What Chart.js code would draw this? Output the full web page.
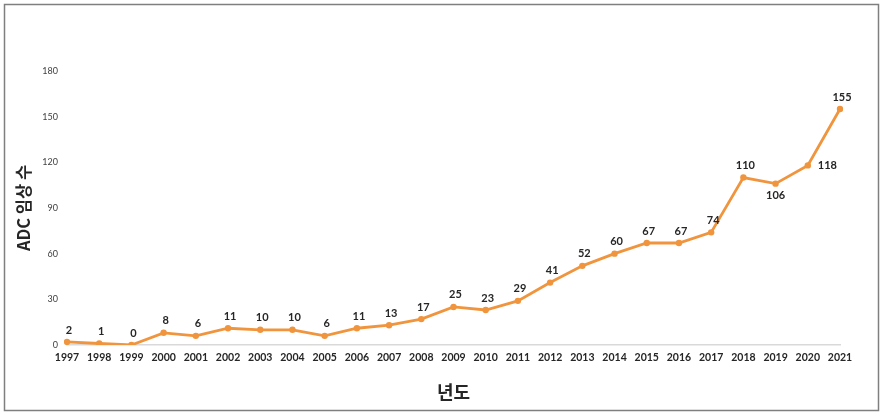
<!DOCTYPE html>
<html>
<head>
<meta charset="utf-8">
<script src="https://cdn.jsdelivr.net/npm/chart.js@4/dist/chart.umd.min.js"></script>
<style>
  body { margin: 0; background: #fff; }
  canvas { display: block; }
</style>
</head>
<body>
<canvas id="adcChart" width="884" height="414"></canvas>
<script>
const anios = ['1997', '1998', '1999', '2000', '2001', '2002', '2003', '2004', '2005', '2006', '2007', '2008',
  '2009', '2010', '2011', '2012', '2013', '2014', '2015', '2016', '2017', '2018', '2019', '2020', '2021'];
const ensayos = [2, 1, 0, 8, 6, 11, 10, 10, 6, 11, 13, 17, 25, 23, 29, 41, 52, 60, 67, 67, 74, 110, 106, 118, 155];
const yTicks = [0, 30, 60, 90, 120, 150, 180];

// donde va cada etiqueta respecto al punto
const posEtiqueta = anios.map(a => a === '2019' ? 'bottom' : (a === '2020' ? 'right' : 'top'));

const marco = {
  id: 'marco',
  beforeDraw(chart) {
    const ctx = chart.ctx;
    ctx.save();
    ctx.fillStyle = '#fff';
    ctx.fillRect(0, 0, chart.width, chart.height);
    ctx.strokeStyle = '#7f7f7f';
    ctx.lineWidth = 1.5;
    ctx.strokeRect(4.5, 4.5, 874, 406);
    ctx.restore();
  }
};

const etiquetas = {
  id: 'etiquetas',
  afterDatasetsDraw(chart) {
    const ctx = chart.ctx;
    const meta = chart.getDatasetMeta(0);
    ctx.save();
    ctx.font = 'bold 11px Lato';
    ctx.fillStyle = '#262626';
    ctx.textBaseline = 'middle';
    meta.data.forEach((pt, i) => {
      const pos = posEtiqueta[i];
      const txt = String(ensayos[i]);
      if (pos === 'right') {
        ctx.textAlign = 'left';
        ctx.fillText(txt, pt.x + 10, pt.y);
      } else if (pos === 'bottom') {
        ctx.textAlign = 'center';
        ctx.fillText(txt, pt.x, pt.y + 12);
      } else {
        ctx.textAlign = 'center';
        ctx.fillText(txt, pt.x + 2, pt.y - 12);
      }
    });
    ctx.restore();
  }
};

const ctx = document.getElementById('adcChart').getContext('2d');
const chart = new Chart(ctx, {
  type: 'line',
  data: {
    labels: anios,
    datasets: [{
      label: 'ADC 임상 수',
      data: ensayos,
      borderColor: '#f0953d',
      backgroundColor: '#f0953d',
      borderWidth: 2.8,
      pointRadius: 3.2,
      pointHoverRadius: 3.2,
      pointBackgroundColor: '#f0953d',
      pointBorderWidth: 0,
      tension: 0,
      fill: false
    }]
  },
  options: {
    responsive: false,
    devicePixelRatio: 1,
    animation: false,
    layout: { padding: { top: 71, right: 44, left: 0, bottom: 0 } },
    plugins: {
      legend: { display: false },
      tooltip: { enabled: false }
    },
    scales: {
      x: {
        offset: false,
        grid: { display: false, drawTicks: false },
        border: { display: true, color: '#d9d9d9', width: 1.5 },
        ticks: {
          color: '#262626',
          font: { family: 'Lato', size: 10.5, weight: 'bold' },
          padding: 6,
          maxRotation: 0,
          autoSkip: false
        },
        title: {
          display: true,
          text: '년도',
          color: '#262626',
          font: { family: 'Noto Sans CJK KR', size: 18, weight: 'bold' },
          padding: { top: 0, bottom: 11 }
        },
        afterFit(scale) { scale.height = 69; }
      },
      y: {
        min: 0,
        max: 180,
        grid: { display: false, drawTicks: false },
        border: { display: false },
        afterBuildTicks(scale) { scale.ticks = yTicks.map(v => ({ value: v })); },
        ticks: {
          color: '#404040',
          font: { family: 'Lato', size: 9 },
          padding: 9
        },
        title: {
          display: true,
          text: 'ADC 임상 수',
          color: '#262626',
          font: { family: 'Noto Sans CJK KR', size: 16.5, weight: 'bold' },
          padding: { top: 14, bottom: 0 }
        },
        afterFit(scale) { scale.width = 67; }
      }
    }
  },
  plugins: [marco, etiquetas]
});
</script>
</body>
</html>
